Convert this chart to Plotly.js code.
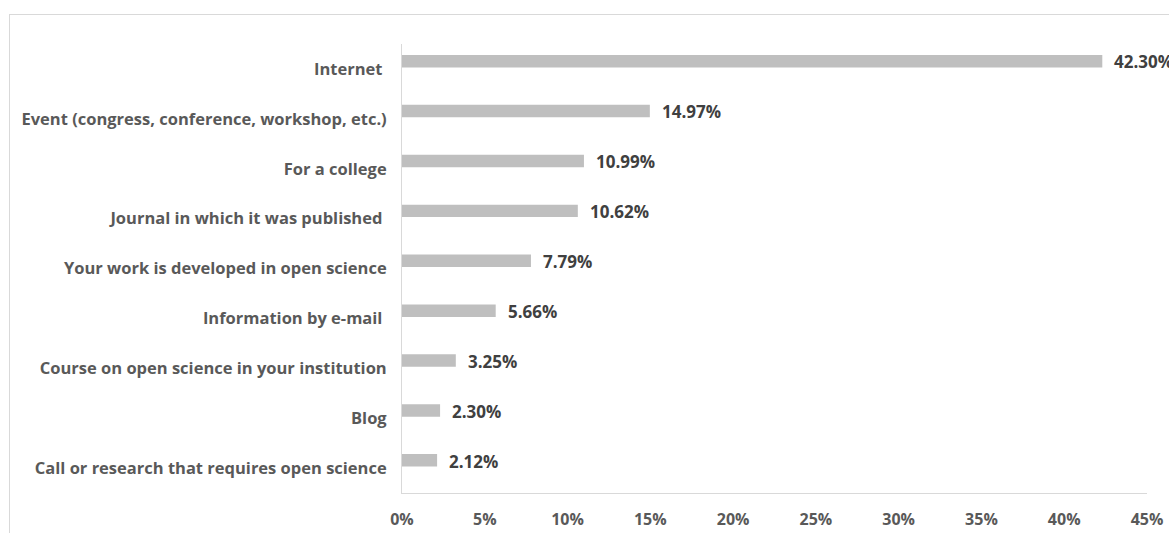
<!DOCTYPE html>
<html>
<head>
<meta charset="utf-8">
<script src="https://cdn.plot.ly/plotly-3.0.1.min.js"></script>
<style>
html,body{margin:0;padding:0;background:#fff;overflow:hidden;}
#frame{position:absolute;left:9px;top:14px;width:1300px;height:700px;border:1px solid #D9D9D9;box-sizing:border-box;}
#chart{position:absolute;left:0;top:0;width:1169px;height:533px;}
</style>
</head>
<body>
<div id="frame"></div>
<div id="chart"></div>
<script>
var categories = [
  "Internet ",
  "Event (congress, conference, workshop, etc.)",
  "For a college",
  "Journal in which it was published ",
  "Your work is developed in open science",
  "Information by e-mail ",
  "Course on open science in your institution",
  "Blog",
  "Call or research that requires open science"
];
var values = [42.30, 14.97, 10.99, 10.62, 7.79, 5.66, 3.25, 2.30, 2.12];
var tickValues = [0, 5, 10, 15, 20, 25, 30, 35, 40, 45];
var tickLabels = ["0%", "5%", "10%", "15%", "20%", "25%", "30%", "35%", "40%", "45%"];
var valueLabels = values.map(function(v){ return v.toFixed(2) + "%"; });

var FONT = "'Open Sans', Lato, sans-serif";

var trace = {
  type: "bar",
  orientation: "h",
  y: categories,
  x: values,
  width: 0.25,
  offset: -0.28,
  marker: {color: "#BFBFBF"},
  hoverinfo: "none"
};

var annotations = values.map(function(v, i){
  return {
    x: v, y: categories[i], xref: "x", yref: "y",
    text: valueLabels[i], showarrow: false,
    xanchor: "left", yanchor: "middle",
    xshift: 10, yshift: 7,
    font: {family: FONT, size: 17, color: "#404040", weight: "bold"}
  };
});

var layout = {
  width: 1169,
  height: 533,
  margin: {l: 402, r: 22, t: 44, b: 40},
  paper_bgcolor: "rgba(0,0,0,0)",
  plot_bgcolor: "rgba(0,0,0,0)",
  showlegend: false,
  annotations: annotations,
  xaxis: {
    range: [0, 45],
    tickvals: tickValues,
    ticktext: tickLabels,
    showgrid: false,
    zeroline: false,
    showline: true,
    linecolor: "#D9D9D9",
    linewidth: 1,
    ticks: "",
    ticklabelstandoff: 12,
    tickfont: {family: FONT, size: 16, color: "#595959", weight: "bold"},
    fixedrange: true
  },
  yaxis: {
    autorange: "reversed",
    type: "category",
    showgrid: false,
    zeroline: false,
    showline: true,
    linecolor: "#D9D9D9",
    linewidth: 1,
    ticks: "",
    ticklabelstandoff: 11,
    tickfont: {family: FONT, size: 16.5, color: "#595959", weight: "bold"},
    fixedrange: true
  }
};

Plotly.newPlot("chart", [trace], layout, {staticPlot: true, displayModeBar: false});
</script>
</body>
</html>
